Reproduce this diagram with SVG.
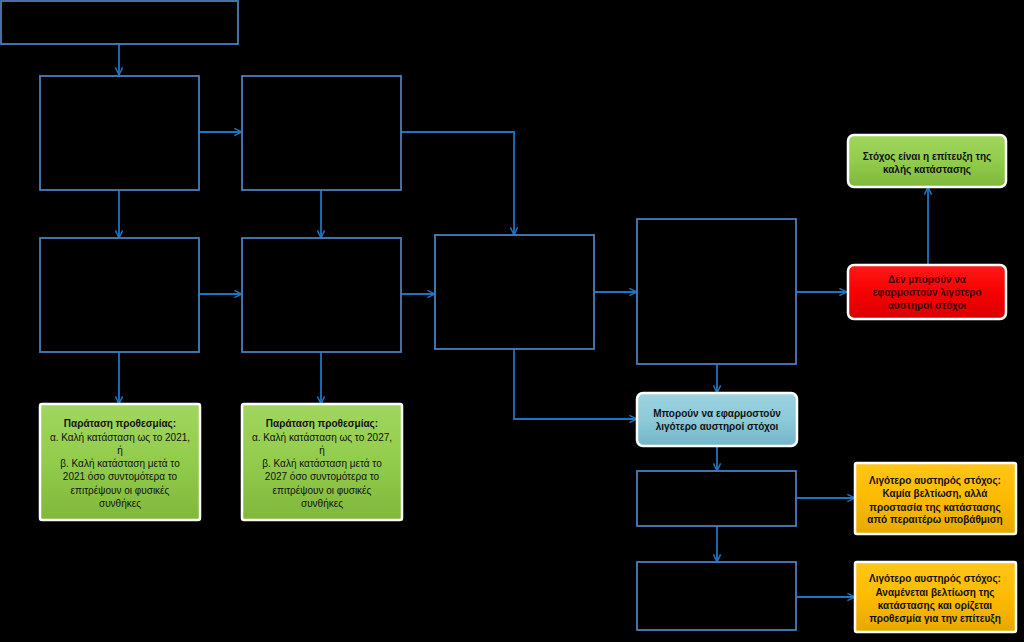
<svg xmlns="http://www.w3.org/2000/svg" width="1024" height="642" viewBox="0 0 1024 642">
<style>
.box{fill:#000;stroke:#4a7ebb;stroke-width:1.8}
.cbox{stroke:#fff;stroke-width:2.5}
.con{fill:none;stroke:#1b75c2;stroke-width:1.8}
text{font-family:"Liberation Sans",Arial,sans-serif;font-size:10px;text-anchor:middle;fill:#111}
.b{font-weight:bold}
</style>
<defs>
<marker id="ah" viewBox="0 0 10 10" refX="9.5" refY="5" markerWidth="9" markerHeight="9" markerUnits="userSpaceOnUse" orient="auto">
<path d="M1,1 L9.5,5 L1,9" fill="none" stroke="#1b75c2" stroke-width="1.6"/>
</marker>
<linearGradient id="gGreen" x1="0" y1="0" x2="0" y2="1">
<stop offset="0" stop-color="#a0d65e"/><stop offset="0.5" stop-color="#92cc4c"/><stop offset="1" stop-color="#7fb83a"/>
</linearGradient>
<linearGradient id="gRed" x1="0" y1="0" x2="0" y2="1">
<stop offset="0" stop-color="#ff1a1a"/><stop offset="0.5" stop-color="#f80000"/><stop offset="1" stop-color="#d80000"/>
</linearGradient>
<linearGradient id="gBlue" x1="0" y1="0" x2="0" y2="1">
<stop offset="0" stop-color="#9ed3e0"/><stop offset="0.5" stop-color="#8ccad9"/><stop offset="1" stop-color="#72b6c8"/>
</linearGradient>
<linearGradient id="gOrange" x1="0" y1="0" x2="0" y2="1">
<stop offset="0" stop-color="#ffc61a"/><stop offset="0.5" stop-color="#fcbb00"/><stop offset="1" stop-color="#e6a800"/>
</linearGradient>
</defs>
<rect width="1024" height="642" fill="#000"/>

<g id="connectors">
<path class="con" d="M119,44 V75" marker-end="url(#ah)"/>
<path class="con" d="M199,132 H242" marker-end="url(#ah)"/>
<path class="con" d="M119,190 V238" marker-end="url(#ah)"/>
<path class="con" d="M321,190 V238" marker-end="url(#ah)"/>
<path class="con" d="M199,294 H242" marker-end="url(#ah)"/>
<path class="con" d="M401,132 H514 V235" marker-end="url(#ah)"/>
<path class="con" d="M401,294 H435" marker-end="url(#ah)"/>
<path class="con" d="M119,352 V404" marker-end="url(#ah)"/>
<path class="con" d="M321,352 V404" marker-end="url(#ah)"/>
<path class="con" d="M594,292 H637" marker-end="url(#ah)"/>
<path class="con" d="M514,349 V419 H637" marker-end="url(#ah)"/>
<path class="con" d="M796,292 H847" marker-end="url(#ah)"/>
<path class="con" d="M928,265 V187" marker-end="url(#ah)"/>
<path class="con" d="M717,364 V393" marker-end="url(#ah)"/>
<path class="con" d="M717,446 V471" marker-end="url(#ah)"/>
<path class="con" d="M717,526 V562" marker-end="url(#ah)"/>
<path class="con" d="M796,498 H855" marker-end="url(#ah)"/>
<path class="con" d="M796,597 H855" marker-end="url(#ah)"/>
</g>

<g id="n-top"><rect class="box" x="1" y="1" width="237" height="43"/></g>
<g id="n-a"><rect class="box" x="40" y="76" width="159" height="114"/></g>
<g id="n-b"><rect class="box" x="242" y="76" width="159" height="114"/></g>
<g id="n-c"><rect class="box" x="40" y="238" width="159" height="114"/></g>
<g id="n-d"><rect class="box" x="242" y="238" width="159" height="114"/></g>
<g id="n-e"><rect class="box" x="435" y="235" width="159" height="114"/></g>
<g id="n-f"><rect class="box" x="637" y="219" width="159" height="145"/></g>
<g id="n-g"><rect class="box" x="637" y="471" width="159" height="55"/></g>
<g id="n-h"><rect class="box" x="637" y="562" width="159" height="68"/></g>

<g id="n-green1">
<rect class="cbox" x="40" y="404" width="160" height="116" rx="2" fill="url(#gGreen)"/>
<text x="120" y="427" class="b">Παράταση προθεσμίας:</text>
<text x="120" y="440.5">α. Καλή κατάσταση ως το 2021,</text>
<text x="120" y="453.5">ή</text>
<text x="120" y="467">β. Καλή κατάσταση μετά το</text>
<text x="120" y="480">2021 όσο συντομότερα το</text>
<text x="120" y="493.5">επιτρέψουν οι φυσικές</text>
<text x="120" y="506.5">συνθήκες</text>
</g>
<g id="n-green2">
<rect class="cbox" x="242" y="404" width="160" height="116" rx="2" fill="url(#gGreen)"/>
<text x="322" y="427" class="b">Παράταση προθεσμίας:</text>
<text x="322" y="440.5">α. Καλή κατάσταση ως το 2027,</text>
<text x="322" y="453.5">ή</text>
<text x="322" y="467">β. Καλή κατάσταση μετά το</text>
<text x="322" y="480">2027 όσο συντομότερα το</text>
<text x="322" y="493.5">επιτρέψουν οι φυσικές</text>
<text x="322" y="506.5">συνθήκες</text>
</g>
<g id="n-goal">
<rect class="cbox" x="848" y="135" width="158" height="52" rx="6" fill="url(#gGreen)"/>
<text x="927" y="159.5" class="b">Στόχος είναι η επίτευξη της</text>
<text x="927" y="172.5" class="b">καλής κατάστασης</text>
</g>
<g id="n-red">
<rect class="cbox" x="848" y="265" width="158" height="54" rx="6" fill="url(#gRed)"/>
<text x="927" y="282.5" class="b" fill="#3a0000" style="fill:#3a0000">Δεν μπορούν να</text>
<text x="927" y="295.5" class="b" style="fill:#3a0000">εφαρμοστούν λιγότερο</text>
<text x="927" y="308.5" class="b" style="fill:#3a0000">αυστηροί στόχοι</text>
</g>
<g id="n-blue">
<rect class="cbox" x="637" y="393" width="160" height="53" rx="6" fill="url(#gBlue)"/>
<text x="717" y="416.5" class="b">Μπορούν να εφαρμοστούν</text>
<text x="717" y="429.5" class="b">λιγότερο αυστηροί στόχοι</text>
</g>
<g id="n-orange1">
<rect class="cbox" x="855" y="463" width="161" height="71" rx="2" fill="url(#gOrange)"/>
<text x="935" y="484" class="b">Λιγότερο αυστηρός στόχος:</text>
<text x="935" y="497" class="b">Καμία βελτίωση, αλλά</text>
<text x="935" y="510.5" class="b">προστασία της κατάστασης</text>
<text x="935" y="523" class="b">από περαιτέρω υποβάθμιση</text>
</g>
<g id="n-orange2">
<rect class="cbox" x="855" y="562" width="161" height="70" rx="2" fill="url(#gOrange)"/>
<text x="935" y="582" class="b">Λιγότερο αυστηρός στόχος:</text>
<text x="935" y="595.5" class="b">Αναμένεται βελτίωση της</text>
<text x="935" y="608.5" class="b">κατάστασης και ορίζεται</text>
<text x="935" y="622" class="b">προθεσμία για την επίτευξη</text>
</g>
</svg>
